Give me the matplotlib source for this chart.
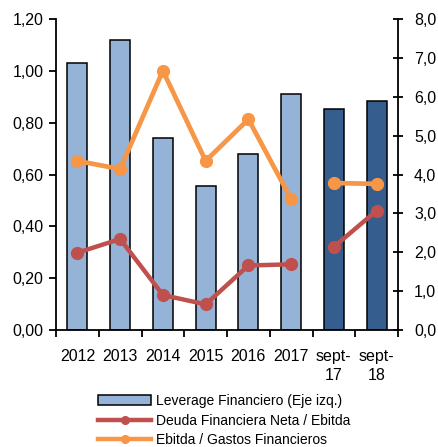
import matplotlib
matplotlib.use("Agg")
import matplotlib.pyplot as plt
from matplotlib.lines import Line2D
from matplotlib.patches import Patch
import numpy as np

categories = ["2012", "2013", "2014", "2015", "2016", "2017", "sept-\n17", "sept-\n18"]
leverage = [1.03, 1.12, 0.74, 0.555, 0.678, 0.912, 0.853, 0.885]
deuda_ebitda = [1.99, 2.34, 0.90, 0.66, 1.66, 1.69, 2.14, 3.07]
ebitda_gastos = [4.35, 4.14, 6.67, 4.35, 5.42, 3.37, 3.78, 3.76]
annual_n = 6  # first six are annual, last two are partial-year (separate segment)

bar_colors = ["#95B3D7"] * 6 + ["#355E8E"] * 2
red = "#C0504D"
orange = "#F79646"

plt.rcParams['font.family'] = ['Liberation Sans', 'DejaVu Sans']

fig = plt.figure(figsize=(4.38, 4.47), dpi=100)
ax = fig.add_axes([0.1279, 0.2617, 0.7808, 0.6958])
ax2 = ax.twinx()

x = np.arange(len(categories))
ax.bar(x, leverage, width=0.47, color=bar_colors, edgecolor="black", linewidth=1.1, zorder=2)

for seg in (slice(0, annual_n), slice(annual_n, len(categories))):
    ax2.plot(x[seg], deuda_ebitda[seg], color=red, lw=3.2, marker="o", ms=8.5, zorder=3)
    ax2.plot(x[seg], ebitda_gastos[seg], color=orange, lw=3.4, marker="o", ms=8.5, zorder=3)

ax.set_xlim(-0.5, len(categories) - 0.5)
ax.set_ylim(0, 1.2)
ax2.set_ylim(0, 8)

ax.set_yticks(np.arange(0, 1.21, 0.2))
ax.set_yticklabels([f"{v:.2f}".replace(".", ",") for v in np.arange(0, 1.21, 0.2)])
ax2.set_yticks(np.arange(0, 8.1, 1))
ax2.set_yticklabels([f"{v:.1f}".replace(".", ",") for v in np.arange(0, 8.1, 1)])

ax.set_xticks(x)
ax.set_xticklabels(categories, fontsize=11.5, linespacing=1.35)
ax.set_xticks(np.arange(-0.5, len(categories), 1), minor=True)
ax.tick_params(axis="x", which="major", length=0, pad=13.5)
ax.tick_params(axis="x", which="minor", length=5, width=1.3, direction="out")
ax.tick_params(axis="y", length=5, width=1.3, direction="out", labelsize=11.5, pad=4)
ax2.tick_params(axis="y", length=7, width=1.3, direction="inout", labelsize=11.5, pad=8)

for a in (ax, ax2):
    a.spines["top"].set_visible(False)
    for s in ("left", "right", "bottom"):
        a.spines[s].set_linewidth(1.3)
ax.spines["right"].set_visible(False)
ax2.spines["left"].set_visible(False)
ax2.spines["bottom"].set_visible(False)

handles = [
    Patch(facecolor="#95B3D7", edgecolor="black", linewidth=1.1),
    Line2D([], [], color=red, lw=3.2, marker="o", ms=5.5),
    Line2D([], [], color=orange, lw=3.2, marker="o", ms=5.5),
]
labels = ["Leverage Financiero (Eje izq.)", "Deuda Financiera Neta / Ebitda", "Ebitda / Gastos Financieros"]
fig.legend(handles, labels, loc="upper center", bbox_to_anchor=(0.5125, 0.118), frameon=False,
           fontsize=10, handlelength=3.8, handleheight=0.72, handletextpad=0.4,
           labelspacing=0.4, borderpad=0, borderaxespad=0)

fig.savefig("out.png", dpi=100)
